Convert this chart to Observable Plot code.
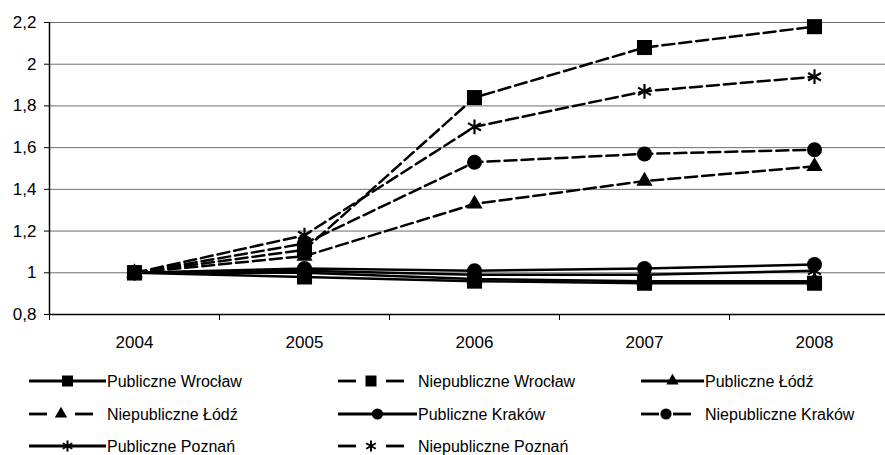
<!DOCTYPE html>
<html><head><meta charset="utf-8">
<script src="https://cdn.jsdelivr.net/npm/d3@7"></script>
<script src="https://cdn.jsdelivr.net/npm/@observablehq/plot@0.6"></script>
<style>
body{margin:0;background:#fff;font-family:"Liberation Sans",Arial,sans-serif;}
#wrap{position:relative;width:885px;height:455px;overflow:hidden;}
#legend{position:absolute;left:0;top:0;width:885px;height:455px;pointer-events:none;}
</style>
</head><body>
<div id="wrap"><div id="chart"></div><svg id="legend" width="885" height="455"></svg></div>
<script>
const years = [2004, 2005, 2006, 2007, 2008];
const pubWroclaw    = [1, 0.98, 0.96, 0.95, 0.95];
const niepubWroclaw = [1, 1.11, 1.84, 2.08, 2.18];
const pubLodz       = [1, 1.00, 0.97, 0.96, 0.96];
const niepubLodz    = [1, 1.08, 1.33, 1.44, 1.51];
const pubKrakow     = [1, 1.02, 1.01, 1.02, 1.04];
const niepubKrakow  = [1, 1.14, 1.53, 1.57, 1.59];
const pubPoznan     = [1, 1.01, 0.99, 0.99, 1.01];
const niepubPoznan  = [1, 1.18, 1.70, 1.87, 1.94];
const seriesNames = ["Publiczne Wrocław","Niepubliczne Wrocław","Publiczne Łódź","Niepubliczne Łódź","Publiczne Kraków","Niepubliczne Kraków","Publiczne Poznań","Niepubliczne Poznań"];
const seriesValues = [pubWroclaw, niepubWroclaw, pubLodz, niepubLodz, pubKrakow, niepubKrakow, pubPoznan, niepubPoznan];
const seriesDashed = [false,true,false,true,false,true,false,true];
const seriesSymbol = ["square","square","triangle","triangle","circle","circle","asterisk","asterisk"];
const yTicks = [0.8, 1, 1.2, 1.4, 1.6, 1.8, 2, 2.2];
const yTickLabels = ["0,8","1","1,2","1,4","1,6","1,8","2","2,2"];
const xBoundaries = [2003.5, 2004.5, 2005.5, 2006.5, 2007.5, 2008.5];

const data = seriesNames.flatMap((name, si) => years.map((yr, i) => ({
  series: name, year: yr, value: seriesValues[si][i], dashed: seriesDashed[si], symbol: seriesSymbol[si]
})));

const symR = {square: 8.5, triangle: 6, circle: 7.5, asterisk: 7};
const dotMarks = ["square","triangle","circle","asterisk"].map(sym =>
  sym === "asterisk"
    ? Plot.dot(data.filter(d => d.symbol === sym), {x: "year", y: "value", symbol: sym, r: symR[sym], stroke: "#000", strokeWidth: 2.2, fill: "none"})
    : Plot.dot(data.filter(d => d.symbol === sym), {x: "year", y: "value", symbol: sym, r: symR[sym], fill: "#000", stroke: "none"})
);

const chart = Plot.plot({
  width: 885, height: 355,
  marginLeft: 49, marginRight: 0, marginTop: 22, marginBottom: 41,
  style: {fontFamily: "'Liberation Sans', Arial, sans-serif", background: "white", color: "#000"},
  x: {domain: [2003.5, 2008.5], range: [49, 899]},
  y: {domain: [0.8, 2.2]},
  marks: [
    Plot.ruleY(yTicks.slice(1), {stroke: "#6e6e6e", strokeWidth: 1}),
    Plot.axisY({ticks: yTicks, tickFormat: d => yTickLabels[yTicks.indexOf(d)], tickSize: 5, tickPadding: 8, fontSize: 17, label: null}),
    Plot.axisX({ticks: xBoundaries, tickFormat: () => "", tickSize: 6, label: null}),
    Plot.axisX({ticks: years, tickFormat: d => String(d), tickSize: 0, tickPadding: 21, fontSize: 17, label: null}),
    Plot.ruleY([0.8], {stroke: "#000", strokeWidth: 1.5}),
    Plot.ruleX([2003.5], {stroke: "#000", strokeWidth: 1.5}),
    Plot.line(data.filter(d => !d.dashed), {x: "year", y: "value", z: "series", stroke: "#000", strokeWidth: 2.5}),
    Plot.line(data.filter(d => d.dashed), {x: "year", y: "value", z: "series", stroke: "#000", strokeWidth: 2.5, strokeDasharray: "12,5"}),
    ...dotMarks
  ]
});
document.getElementById("chart").appendChild(chart);

// Legend
const legSwatchX = [29, 338, 641];
const legTextX = [107, 418, 705];
const legRows = [381, 414, 446];
const legR = {square: 6.2, triangle: 4.6, circle: 5.6, asterisk: 5.2};
const lg = d3.select("#legend");
const symGen = {square: d3.symbolSquare, triangle: d3.symbolTriangle, circle: d3.symbolCircle, asterisk: d3.symbolAsterisk};
seriesNames.forEach((name, i) => {
  const col = i % 3;
  const cy = legRows[Math.floor(i / 3)];
  const x0 = legSwatchX[col];
  const x1 = seriesDashed[i] ? legTextX[col] - 14 : legTextX[col] - 1;
  const mid = (x0 + x1) / 2;
  const g = lg.append("g");
  if (seriesDashed[i]) {
    g.append("line").attr("x1", x0).attr("x2", x0 + 18).attr("y1", cy).attr("y2", cy).attr("stroke", "#000").attr("stroke-width", 2.8);
    g.append("line").attr("x1", x1 - 18).attr("x2", x1).attr("y1", cy).attr("y2", cy).attr("stroke", "#000").attr("stroke-width", 2.8);
  } else {
    g.append("line").attr("x1", x0).attr("x2", x1).attr("y1", cy).attr("y2", cy).attr("stroke", "#000").attr("stroke-width", 2.8);
  }
  const sym = seriesSymbol[i];
  const r = legR[sym];
  g.append("path").attr("transform", `translate(${mid},${cy})`)
    .attr("d", d3.symbol(symGen[sym], Math.PI * r * r)())
    .attr("fill", sym === "asterisk" ? "none" : "#000")
    .attr("stroke", sym === "asterisk" ? "#000" : "none").attr("stroke-width", 2);
  g.append("text").attr("x", legTextX[col]).attr("y", cy).attr("dy", "0.35em")
    .attr("font-size", 16).attr("fill", "#000").text(name);
});
</script>
</body></html>
